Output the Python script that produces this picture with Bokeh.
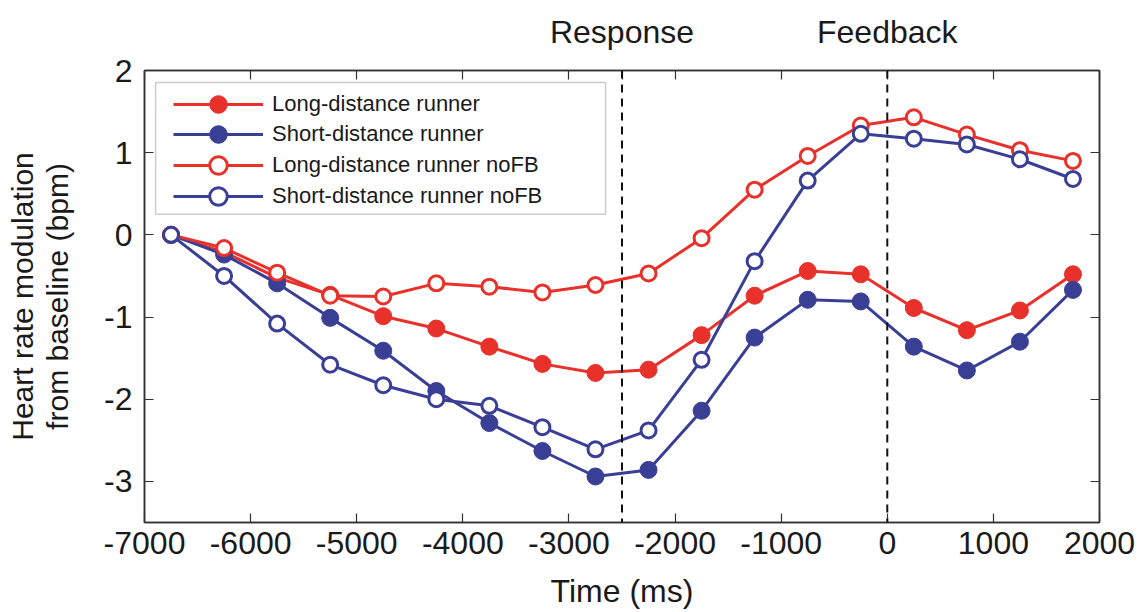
from bokeh.plotting import figure
from bokeh.models import (Span, LinearAxis, FixedTicker, Range1d, Legend,
                          LegendItem, BoxAnnotation)
from bokeh.embed import file_html
from bokeh.resources import INLINE

# ---- data ----
time_ms = [-6750, -6250, -5750, -5250, -4750, -4250, -3750, -3250, -2750,
           -2250, -1750, -1250, -750, -250, 250, 750, 1250, 1750]
long_fb = [0, -0.21, -0.52, -0.73, -0.99, -1.14, -1.36, -1.57, -1.68,
           -1.64, -1.22, -0.74, -0.44, -0.48, -0.89, -1.16, -0.92, -0.48]
short_fb = [0, -0.24, -0.59, -1.01, -1.41, -1.90, -2.29, -2.63, -2.94,
            -2.86, -2.14, -1.25, -0.79, -0.81, -1.36, -1.65, -1.30, -0.67]
long_nofb = [0, -0.16, -0.46, -0.74, -0.75, -0.59, -0.63, -0.70, -0.61,
             -0.47, -0.04, 0.55, 0.96, 1.33, 1.43, 1.22, 1.03, 0.90]
short_nofb = [0, -0.50, -1.08, -1.58, -1.83, -2.00, -2.08, -2.34, -2.61,
              -2.38, -1.52, -0.32, 0.66, 1.23, 1.17, 1.10, 0.92, 0.68]
x_ticks = [-7000, -6000, -5000, -4000, -3000, -2000, -1000, 0, 1000, 2000]
y_ticks = [-3, -2, -1, 0, 1, 2]
event_times = [-2500, 0]
event_names = ["Response", "Feedback"]
labels = ["Long-distance runner", "Short-distance runner",
          "Long-distance runner noFB", "Short-distance runner noFB"]

RED = "#E8312A"
BLUE = "#3A3F96"
AX = "#333333"
TXT = "#1a1a1a"
FONT = "Liberation Sans"

W, H = 1146, 612
BL, BR, BT, BB = 144, 47, 70, 90
FH = H - BT - BB

p = figure(width=W, height=H, x_range=Range1d(-7000, 2000),
           y_range=Range1d(-3.5, 2), output_backend="svg", toolbar_location=None,
           min_border_left=BL, min_border_right=BR, min_border_top=BT,
           min_border_bottom=BB, background_fill_color="white",
           border_fill_color="white")
p.xgrid.visible = False
p.ygrid.visible = False
p.outline_line_color = AX
p.outline_line_width = 1.5


def style_axis(ax, ticks):
    ax.ticker = FixedTicker(ticks=ticks)
    ax.major_tick_in = 9
    ax.major_tick_out = 0
    ax.minor_tick_in = 0
    ax.minor_tick_out = 0
    ax.axis_line_color = AX
    ax.axis_line_width = 1.5
    ax.major_tick_line_color = AX
    ax.major_tick_line_width = 1.2
    ax.major_label_text_font = FONT
    ax.major_label_text_font_size = "32px"
    ax.major_label_text_color = TXT
    ax.axis_label_text_font = FONT
    ax.axis_label_text_font_style = "normal"
    ax.axis_label_text_color = TXT


xa = p.xaxis[0]
ya = p.yaxis[0]
style_axis(xa, x_ticks)
style_axis(ya, y_ticks)
xa.major_label_overrides = {t: str(t) for t in x_ticks}
ya.major_label_overrides = {t: str(t) for t in y_ticks}
xa.axis_label = "Time (ms)"
xa.axis_label_text_font_size = "32px"
xa.major_label_standoff = 9
xa.axis_label_standoff = 16
ya.axis_label = "from baseline (bpm)"
ya.axis_label_text_font_size = "30px"
ya.major_label_standoff = 12
ya.axis_label_standoff = 27

ya2 = LinearAxis(ticker=FixedTicker(ticks=[]), axis_label="Heart rate modulation",
                 axis_label_text_font=FONT, axis_label_text_font_size="30px",
                 axis_label_text_font_style="normal", axis_label_text_color=TXT,
                 axis_line_alpha=0, major_tick_in=0, major_tick_out=0,
                 minor_tick_in=0, minor_tick_out=0, major_label_text_font_size="0px",
                 major_label_standoff=0, axis_label_standoff=0)
p.add_layout(ya2, "left")

# top axis: box ticks plus event names
top_ticks = sorted(set(x_ticks + event_times))
top_over = {t: "" for t in top_ticks}
for t, n in zip(event_times, event_names):
    top_over[t] = n
ta = LinearAxis(ticker=FixedTicker(ticks=top_ticks), major_tick_in=9, major_tick_out=0,
                minor_tick_in=0, minor_tick_out=0, major_label_overrides=top_over,
                major_label_text_font=FONT, major_label_text_font_size="32px",
                major_label_text_color=TXT, major_label_standoff=21,
                axis_line_color=AX, axis_line_width=1.5,
                major_tick_line_color=AX, major_tick_line_width=1.2)
p.add_layout(ta, "above")

ra = LinearAxis(ticker=FixedTicker(ticks=y_ticks), major_tick_in=9, major_tick_out=0,
                minor_tick_in=0, minor_tick_out=0, major_label_text_font_size="0px",
                major_label_standoff=0, axis_line_color=AX, axis_line_width=1.5,
                major_tick_line_color=AX, major_tick_line_width=1.2)
p.add_layout(ra, "right")

for t in event_times:
    p.add_layout(Span(location=t, dimension="height", line_color="#111111",
                      line_width=2, line_dash="8 6"))

series = [
    (long_fb, RED, True),
    (short_fb, BLUE, True),
    (long_nofb, RED, False),
    (short_nofb, BLUE, False),
]
rends = []
for ys, col, filled in series:
    lr = p.line(time_ms, ys, line_color=col, line_width=3)
    if filled:
        sr = p.scatter(time_ms, ys, size=17, fill_color=col, line_color=col,
                       line_width=1)
    else:
        sr = p.scatter(time_ms, ys, size=15, fill_color="white", line_color=col,
                       line_width=3)
    rends.append([lr, sr])

# legend frame (data coordinates of the box drawn by the reference)
p.add_layout(BoxAnnotation(left=-6895, right=-2655, top=1.855, bottom=0.25,
                           fill_color="white", fill_alpha=1.0,
                           line_color="#555555", line_width=1.5))

centers = [104, 134, 165, 196]  # item centres, px from top of page
GH = 44
for lab, rr, cy in zip(labels, rends, centers):
    lg = Legend(items=[LegendItem(label=lab, renderers=rr)],
                location=(173 - BL, (BT + FH) - (cy + GH / 2)),
                padding=0, margin=0, spacing=0, glyph_width=90, glyph_height=GH,
                label_height=24, label_standoff=9, label_text_font=FONT,
                label_text_font_size="22px", label_text_color=TXT,
                border_line_alpha=0, background_fill_alpha=0)
    p.add_layout(lg, "center")

open("out.html", "w").write(file_html(p, INLINE))
